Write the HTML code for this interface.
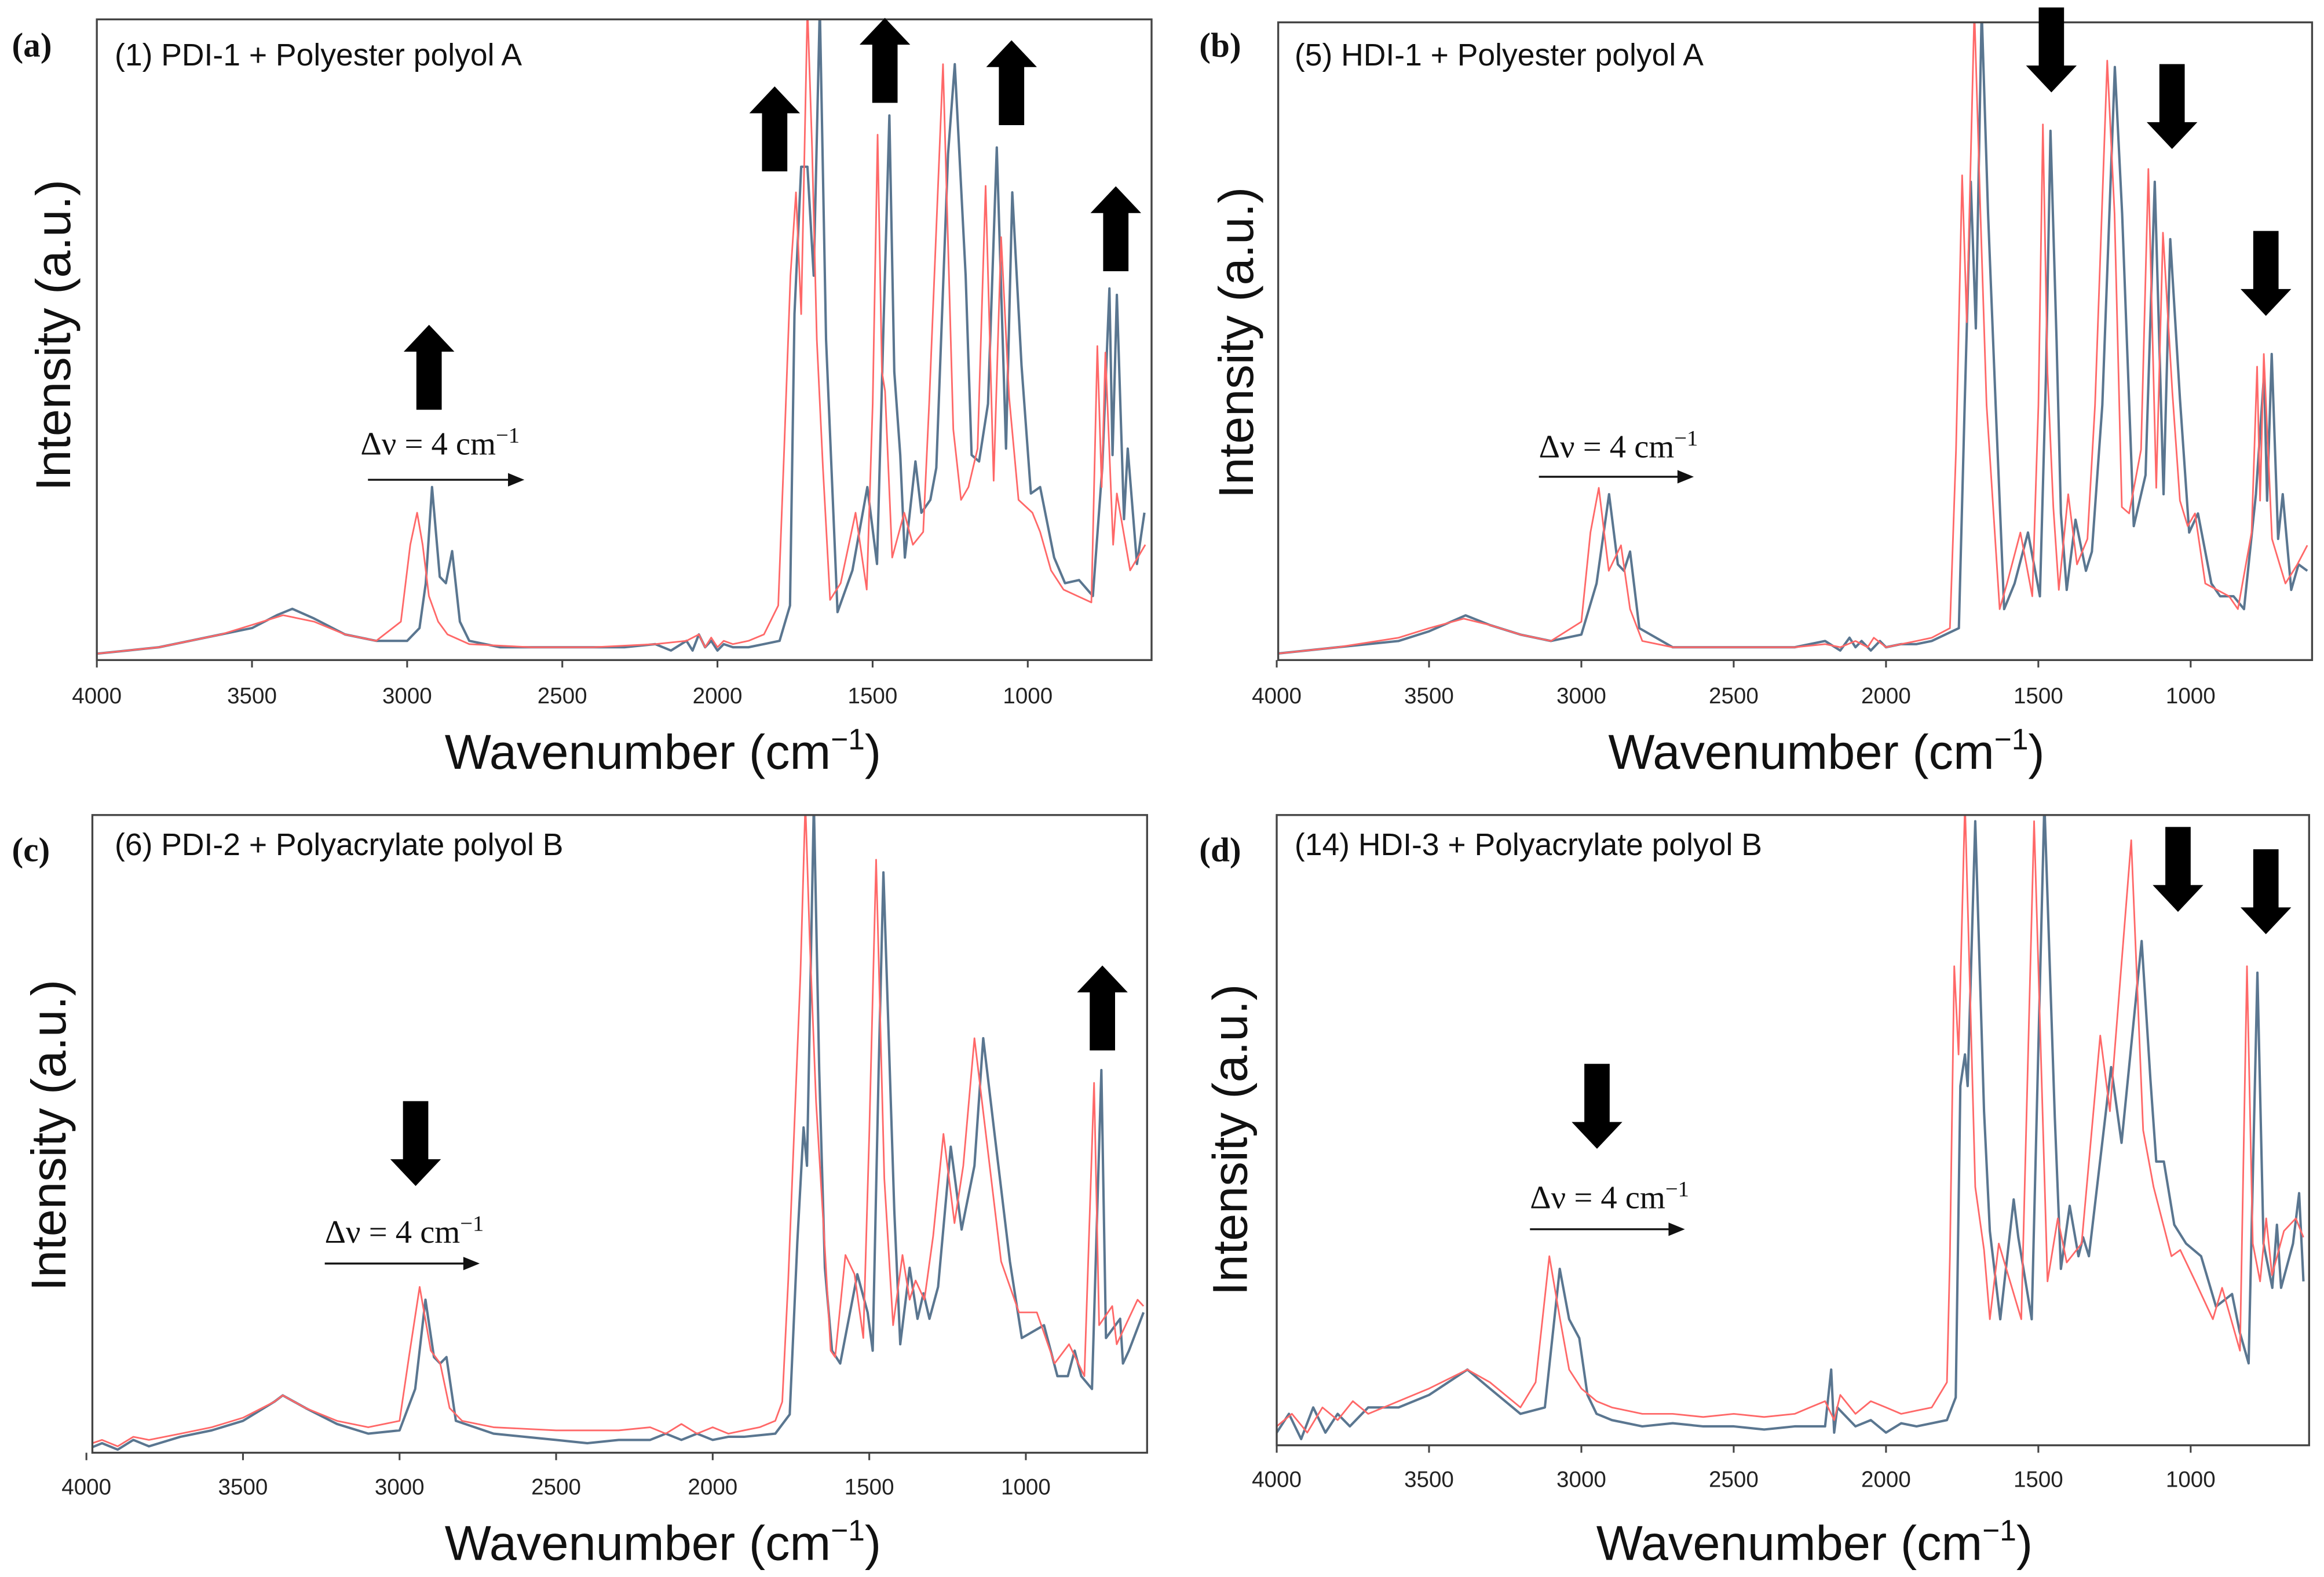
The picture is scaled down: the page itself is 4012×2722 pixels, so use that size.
<!DOCTYPE html>
<html><head><meta charset="utf-8"><style>
html,body{margin:0;padding:0;background:#fff;}
svg{display:block;}
.tk{font-family:"Liberation Sans",sans-serif;font-size:15px;fill:#222;text-anchor:middle;}
.ttl{font-family:"Liberation Sans",sans-serif;font-size:20.8px;fill:#111;}
.pl{font-family:"Liberation Serif",serif;font-size:23px;font-weight:bold;fill:#111;}
.ax{font-family:"Liberation Sans",sans-serif;font-size:33px;fill:#111;text-anchor:middle;}
.ay{font-family:"Liberation Sans",sans-serif;font-size:33px;fill:#111;text-anchor:middle;}
.dn{font-family:"Liberation Serif",serif;font-size:22px;fill:#111;}
</style></head><body>
<svg id="fig" width="4012" height="2722" viewBox="0 0 1560 1058.4" preserveAspectRatio="none" xmlns="http://www.w3.org/2000/svg">
<rect x="0" y="0" width="1560" height="1059" fill="#fff"/>
</svg>
<script>
// ---- data (wavenumber cm-1, relative intensity 0..1) ----
const ticks = [4000,3500,3000,2500,2000,1500,1000];
const titles = ["(1) PDI-1 + Polyester polyol A","(5) HDI-1 + Polyester polyol A","(6) PDI-2 + Polyacrylate polyol B","(14) HDI-3 + Polyacrylate polyol B"];
const panelLetters = ["(a)","(b)","(c)","(d)"];

const aRedW = [4000,3800,3600,3500,3400,3300,3200,3100,3020,2990,2968,2950,2930,2900,2870,2800,2600,2400,2200,2100,2060,2040,2020,2000,1980,1950,1900,1850,1804,1785,1765,1747,1730,1710,1695,1680,1660,1637,1603,1555,1519,1500,1484,1470,1460,1437,1398,1370,1337,1318,1273,1240,1215,1191,1162,1136,1110,1086,1060,1030,985,960,925,885,840,795,776,762,750,725,713,670,621];
const aRedI = [0.01,0.02,0.04,0.055,0.07,0.06,0.04,0.03,0.06,0.18,0.23,0.18,0.1,0.06,0.04,0.025,0.02,0.02,0.025,0.03,0.04,0.02,0.035,0.02,0.03,0.025,0.03,0.04,0.085,0.33,0.6,0.73,0.54,1.02,0.8,0.5,0.3,0.094,0.12,0.23,0.11,0.4,0.82,0.45,0.42,0.16,0.23,0.18,0.2,0.4,0.93,0.36,0.25,0.27,0.33,0.74,0.28,0.66,0.41,0.25,0.23,0.2,0.14,0.11,0.1,0.09,0.49,0.27,0.48,0.18,0.26,0.14,0.18];
const aBlueW = [4000,3900,3800,3700,3600,3500,3420,3370,3300,3200,3100,3000,2960,2940,2920,2895,2875,2855,2830,2800,2700,2500,2300,2200,2150,2100,2080,2060,2040,2020,2000,1980,1950,1900,1850,1800,1766,1752,1730,1710,1690,1670,1650,1613,1565,1517,1486,1466,1446,1430,1411,1396,1362,1343,1314,1295,1257,1235,1200,1181,1157,1128,1100,1070,1050,1020,990,960,915,880,835,790,760,737,727,713,690,678,648,624];
const aBlueI = [0.01,0.015,0.02,0.03,0.04,0.05,0.07,0.08,0.065,0.04,0.03,0.03,0.05,0.12,0.27,0.13,0.12,0.17,0.06,0.03,0.02,0.02,0.02,0.025,0.015,0.03,0.015,0.04,0.02,0.03,0.015,0.025,0.02,0.02,0.025,0.03,0.085,0.54,0.77,0.77,0.6,1.02,0.5,0.075,0.14,0.27,0.15,0.5,0.85,0.45,0.32,0.16,0.31,0.23,0.25,0.3,0.79,0.93,0.6,0.32,0.31,0.4,0.8,0.33,0.73,0.46,0.26,0.27,0.16,0.12,0.125,0.1,0.3,0.58,0.32,0.57,0.22,0.33,0.15,0.23];

const bRedW = [4000,3800,3600,3500,3386,3300,3200,3100,3000,2970,2943,2910,2870,2840,2800,2700,2500,2300,2200,2150,2100,2060,2040,2000,1950,1900,1850,1790,1770,1750,1735,1710,1690,1670,1627,1603,1559,1520,1500,1485,1470,1451,1433,1402,1373,1339,1314,1274,1250,1226,1202,1163,1139,1113,1091,1060,1035,1010,986,952,874,845,800,782,772,760,733,689,650,617];
const bRedI = [0.01,0.02,0.035,0.05,0.065,0.055,0.04,0.03,0.06,0.2,0.27,0.14,0.18,0.08,0.03,0.02,0.02,0.02,0.025,0.02,0.03,0.02,0.035,0.02,0.025,0.03,0.035,0.05,0.33,0.76,0.53,1.02,0.7,0.4,0.08,0.12,0.2,0.1,0.4,0.84,0.45,0.24,0.11,0.26,0.15,0.19,0.4,0.94,0.7,0.24,0.23,0.33,0.77,0.27,0.67,0.42,0.25,0.21,0.23,0.12,0.1,0.08,0.2,0.46,0.25,0.48,0.19,0.12,0.15,0.18];
const bBlueW = [4000,3800,3600,3500,3380,3300,3200,3100,3000,2950,2909,2880,2860,2840,2810,2700,2500,2300,2200,2150,2120,2100,2080,2050,2020,2000,1950,1900,1850,1761,1742,1722,1705,1686,1665,1640,1612,1578,1534,1495,1475,1460,1440,1426,1407,1378,1344,1324,1290,1249,1225,1187,1148,1118,1089,1067,1035,1005,976,932,903,859,825,786,759,749,734,713,698,670,646,617];
const bBlueI = [0.01,0.02,0.03,0.045,0.07,0.055,0.04,0.03,0.04,0.12,0.26,0.15,0.14,0.17,0.05,0.02,0.02,0.02,0.03,0.015,0.035,0.02,0.03,0.015,0.03,0.02,0.025,0.025,0.03,0.05,0.4,0.75,0.52,1.02,0.7,0.4,0.08,0.12,0.2,0.1,0.45,0.83,0.5,0.23,0.11,0.22,0.14,0.17,0.4,0.93,0.7,0.21,0.29,0.75,0.26,0.66,0.41,0.2,0.23,0.12,0.1,0.1,0.08,0.26,0.45,0.25,0.48,0.19,0.26,0.11,0.15,0.14];

const cRedW = [4000,3950,3900,3850,3800,3700,3600,3500,3400,3373,3300,3200,3100,3000,2970,2936,2900,2870,2840,2800,2700,2500,2300,2200,2150,2100,2050,2000,1950,1900,1850,1800,1778,1759,1737,1720,1704,1690,1670,1642,1623,1609,1576,1547,1519,1500,1478,1452,1424,1394,1371,1352,1324,1296,1263,1228,1200,1164,1140,1079,1022,965,908,862,813,782,766,724,710,643,624];
const cRedI = [0.012,0.02,0.01,0.025,0.02,0.03,0.04,0.055,0.08,0.09,0.07,0.05,0.04,0.05,0.15,0.26,0.16,0.14,0.07,0.05,0.04,0.035,0.035,0.04,0.03,0.045,0.03,0.04,0.03,0.035,0.04,0.05,0.08,0.27,0.54,0.75,1.02,0.8,0.55,0.32,0.16,0.15,0.31,0.28,0.18,0.5,0.93,0.43,0.2,0.31,0.24,0.27,0.24,0.34,0.5,0.36,0.45,0.65,0.55,0.3,0.22,0.22,0.14,0.17,0.12,0.58,0.2,0.23,0.17,0.24,0.23];
const cBlueW = [4000,3950,3900,3850,3800,3700,3600,3500,3400,3373,3300,3200,3100,3000,2950,2917,2890,2870,2850,2820,2700,2500,2400,2300,2200,2150,2100,2050,2000,1950,1900,1800,1754,1730,1710,1699,1677,1660,1642,1619,1593,1538,1505,1489,1470,1455,1420,1401,1371,1346,1327,1308,1280,1240,1205,1164,1136,1100,1051,1013,942,899,866,844,823,789,759,744,699,690,671,624];
const cBlueI = [0.005,0.015,0.005,0.02,0.01,0.025,0.035,0.05,0.08,0.09,0.07,0.045,0.03,0.035,0.1,0.24,0.15,0.14,0.15,0.05,0.03,0.02,0.015,0.02,0.02,0.03,0.02,0.03,0.02,0.025,0.025,0.03,0.06,0.33,0.51,0.45,1.02,0.6,0.29,0.16,0.14,0.28,0.22,0.16,0.6,0.91,0.38,0.17,0.29,0.21,0.25,0.21,0.26,0.48,0.35,0.45,0.65,0.5,0.3,0.18,0.2,0.12,0.12,0.16,0.12,0.1,0.6,0.18,0.21,0.14,0.16,0.22];

const dRedW = [4000,3950,3900,3850,3800,3750,3700,3600,3500,3374,3300,3200,3150,3105,3070,3040,3000,2950,2900,2800,2700,2600,2500,2400,2300,2250,2200,2170,2150,2100,2050,2000,1950,1900,1850,1800,1790,1776,1762,1741,1707,1678,1659,1630,1556,1514,1470,1436,1407,1358,1297,1265,1195,1156,1122,1063,1034,985,927,897,838,815,796,772,752,733,694,655,630];
const dRedI = [0.03,0.05,0.02,0.06,0.04,0.07,0.05,0.07,0.09,0.12,0.1,0.06,0.1,0.3,0.2,0.12,0.09,0.07,0.06,0.05,0.05,0.045,0.05,0.045,0.05,0.06,0.07,0.04,0.08,0.05,0.07,0.06,0.05,0.055,0.06,0.1,0.3,0.76,0.62,1.02,0.41,0.31,0.2,0.32,0.2,0.99,0.26,0.36,0.29,0.32,0.65,0.53,0.96,0.5,0.41,0.3,0.31,0.26,0.2,0.25,0.15,0.76,0.32,0.26,0.36,0.27,0.34,0.36,0.33];
const dBlueW = [4000,3960,3920,3880,3840,3800,3760,3700,3600,3500,3374,3300,3200,3120,3071,3040,3007,2980,2950,2900,2800,2700,2600,2500,2400,2300,2200,2180,2170,2160,2100,2050,2000,1950,1900,1850,1800,1771,1756,1741,1732,1707,1678,1659,1625,1581,1566,1522,1480,1446,1426,1397,1368,1353,1334,1261,1227,1161,1132,1113,1088,1054,1015,966,917,864,839,810,781,761,732,717,703,664,644,630];
const dBlueI = [0.02,0.05,0.01,0.06,0.02,0.05,0.03,0.06,0.06,0.08,0.12,0.09,0.05,0.06,0.28,0.2,0.17,0.08,0.05,0.04,0.03,0.035,0.03,0.03,0.025,0.03,0.03,0.12,0.02,0.06,0.03,0.04,0.02,0.035,0.03,0.035,0.04,0.076,0.57,0.62,0.57,0.99,0.53,0.34,0.2,0.39,0.33,0.2,1.02,0.52,0.28,0.38,0.3,0.33,0.3,0.6,0.48,0.8,0.58,0.45,0.45,0.35,0.32,0.3,0.22,0.24,0.18,0.13,0.75,0.32,0.25,0.35,0.25,0.32,0.4,0.26];

// arrows: [x px, top y, direction]
const arrowsA = [[288,218,'up'],[520,58,'up'],[594,12,'up'],[679,27,'up'],[749,125,'up']];
const arrowsB = [[1377,5,'down'],[1458,43,'down'],[1521,155,'down']];
const arrowsC = [[279,739,'down'],[740,648,'up']];
const arrowsD = [[1072,714,'down'],[1462,555,'down'],[1521,570,'down']];

const NS = "http://www.w3.org/2000/svg";
const svg = document.getElementById('fig');
function mk(tag, attrs, parent){ const e=document.createElementNS(NS,tag); for(const k in attrs) e.setAttribute(k,attrs[k]); (parent||svg).appendChild(e); return e; }

const panels = [
 {id:'a', bx:65, by:13, bw:708, bh:430, x0:65, k:0.2083, red:[aRedW,aRedI], blue:[aBlueW,aBlueI], arrows:arrowsA, lx:8, ly:38, tx:77, ty:44, axx:445, axy:516, ayx:47, ayy:225, dnx:242, dny:305, dly:322, dl1:247, dl2:352, tky:472},
 {id:'b', bx:858, by:15, bw:694, bh:428, x0:857, k:0.2045, red:[bRedW,bRedI], blue:[bBlueW,bBlueI], arrows:arrowsB, lx:805, ly:38, tx:869, ty:44, axx:1226, axy:516, ayx:841, ayy:230, dnx:1033, dny:307, dly:320, dl1:1033, dl2:1137, tky:472},
 {id:'c', bx:62, by:547, bw:708, bh:428, x0:58, k:0.2102, red:[cRedW,cRedI], blue:[cBlueW,cBlueI], arrows:arrowsC, lx:8, ly:578, tx:77, ty:574, axx:445, axy:1047, ayx:44, ayy:762, dnx:218, dny:834, dly:848, dl1:218, dl2:322, tky:1003},
 {id:'d', bx:857, by:547, bw:693, bh:423, x0:857, k:0.2045, red:[dRedW,dRedI], blue:[dBlueW,dBlueI], arrows:arrowsD, lx:805, ly:578, tx:869, ty:574, axx:1218, axy:1047, ayx:837, ayy:765, dnx:1027, dny:811, dly:825, dl1:1027, dl2:1131, tky:998}
];

panels.forEach((p,i)=>{
  const g = mk('g',{});
  
  
  const xs = w => p.x0 + (4000-w)*p.k;
  const ys = v => p.by + p.bh - v*p.bh;
  const cp = mk('clipPath',{id:'clip'+p.id},g);
  mk('rect',{x:p.bx,y:p.by,width:p.bw,height:p.bh},cp);
  const plot = mk('g',{'clip-path':'url(#clip'+p.id+')'},g);
  function series(W,I,color,width,name){
    let d='';
    for(let j=0;j<W.length;j++){ d += (j?'L':'M') + xs(W[j]).toFixed(1)+','+ys(I[j]).toFixed(1); }
    const path = mk('path',{d:d,fill:'none',stroke:color,'stroke-width':width,'stroke-linejoin':'round'},plot);
    
    
  }
  series(p.blue[0],p.blue[1],'#5a7690',1.6,'spectrum-blue-'+p.id);
  series(p.red[0],p.red[1],'#ff6868',1.1,'spectrum-red-'+p.id);
  const box = mk('rect',{x:p.bx,y:p.by,width:p.bw,height:p.bh,fill:'none',stroke:'#444','stroke-width':1.3},g);
  
  
  ticks.forEach(t=>{
    const x = xs(t);
    mk('line',{x1:x,x2:x,y1:p.by+p.bh,y2:p.by+p.bh+5,stroke:'#444','stroke-width':1.2},g);
    const tl = mk('text',{x:x,y:p.tky,class:'tk'},g);
    tl.textContent = t;
    
    
  });
  const pl = mk('text',{x:p.lx,y:p.ly,class:'pl'},g); pl.textContent = panelLetters[i];
  
  
  const tt = mk('text',{x:p.tx,y:p.ty,class:'ttl'},g); tt.textContent = titles[i];
  
  
  const ax = mk('text',{x:p.axx,y:p.axy,class:'ax'},g); ax.innerHTML = 'Wavenumber (cm<tspan dy="-13" font-size="20">−1</tspan><tspan dy="13">)</tspan>';
  
  
  const ay = mk('text',{x:p.ayx,y:p.ayy,class:'ay',transform:'rotate(-90 '+p.ayx+' '+p.ayy+')'},g); ay.textContent='Intensity (a.u.)';
  
  
  const dn = mk('text',{x:p.dnx,y:p.dny,class:'dn'},g); dn.innerHTML='Δν = 4 cm<tspan dy="-8" font-size="15">−1</tspan>';
  
  
  mk('line',{x1:p.dl1,x2:p.dl2-8,y1:p.dly,y2:p.dly,stroke:'#111','stroke-width':1.3},g);
  mk('path',{d:`M${p.dl2},${p.dly} L${p.dl2-11},${p.dly-4.5} L${p.dl2-11},${p.dly+4.5}Z`,fill:'#111'},g);
  p.arrows.forEach(a=>{
    const [cx,top,dir]=a; const H=57, hh=18, sw=8.5, hw=17;
    let d;
    if(dir==='up') d=`M${cx},${top} L${cx+hw},${top+hh} L${cx+sw},${top+hh} L${cx+sw},${top+H} L${cx-sw},${top+H} L${cx-sw},${top+hh} L${cx-hw},${top+hh}Z`;
    else d=`M${cx-sw},${top} L${cx+sw},${top} L${cx+sw},${top+H-hh} L${cx+hw},${top+H-hh} L${cx},${top+H} L${cx-hw},${top+H-hh} L${cx-sw},${top+H-hh}Z`;
    const ar = mk('path',{d:d,fill:'#000'},g);
    
    
  });
});
</script>
</body></html>
